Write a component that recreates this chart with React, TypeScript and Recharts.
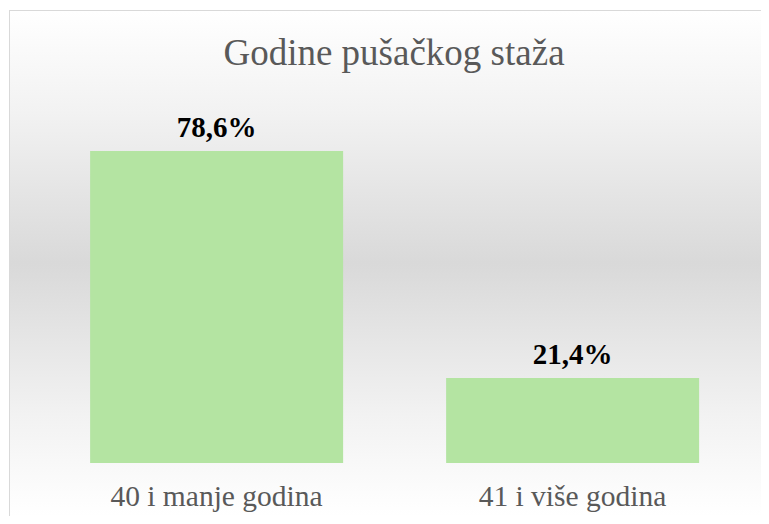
import React from "react"
import { BarChart, Bar, XAxis, YAxis, LabelList } from "recharts"

const categories = ["40 i manje godina", "41 i više godina"]
const shares = [78.6, 21.4]

const data = categories.map((name, i) => ({ name, value: shares[i] }))

const FONT = "'Liberation Serif', 'Times New Roman', serif"

const fmt = (v: number) => v.toFixed(1).replace(".", ",") + "%"

const renderLabel = (props: any) => {
  const { x, y, width, value } = props
  return (
    <text
      x={Number(x) + Number(width) / 2}
      y={Number(y) - 14}
      textAnchor="middle"
      fontFamily={FONT}
      fontSize={29}
      fontWeight="bold"
      fill="#000"
    >
      {fmt(Number(value))}
    </text>
  )
}

const renderTick = (props: any) => {
  const { x, y, payload } = props
  return (
    <text x={x} y={Number(y) + 43} textAnchor="middle" fontFamily={FONT} fontSize={29.5} fill="#595959">
      {payload.value}
    </text>
  )
}

export default function App() {
  return (
    <div
      style={{
        position: "relative",
        marginLeft: 1,
        marginTop: 2,
        width: 759,
        height: 505,
        overflow: "hidden",
        borderLeft: "1px solid #d9d9d9",
        borderTop: "1px solid #d9d9d9",
        background: "linear-gradient(to bottom, #ffffff 0%, #f2f2f2 20%, #d9d9d9 50%, #f2f2f2 80%, #ffffff 100%)",
      }}
    >
      <div
        style={{
          position: "absolute",
          left: 0,
          top: 23,
          width: 768,
          textAlign: "center",
          fontFamily: FONT,
          fontSize: 37,
          lineHeight: "37px",
          color: "#595959",
        }}
      >
        Godine pušačkog staža
      </div>
      <BarChart
        width={759}
        height={505}
        data={data}
        margin={{ top: 140, right: 18.5, bottom: 0, left: 28.5 }}
        barCategoryGap="14.5%"
      >
        <XAxis
          dataKey="name"
          axisLine={false}
          tickLine={false}
          tickSize={0}
          tickMargin={0}
          height={53}
          tick={renderTick}
          interval={0}
        />
        <YAxis hide domain={[0, "dataMax"]} />
        <Bar dataKey="value" fill="#b4e4a2" isAnimationActive={false}>
          <LabelList dataKey="value" content={renderLabel} />
        </Bar>
      </BarChart>
    </div>
  )
}
